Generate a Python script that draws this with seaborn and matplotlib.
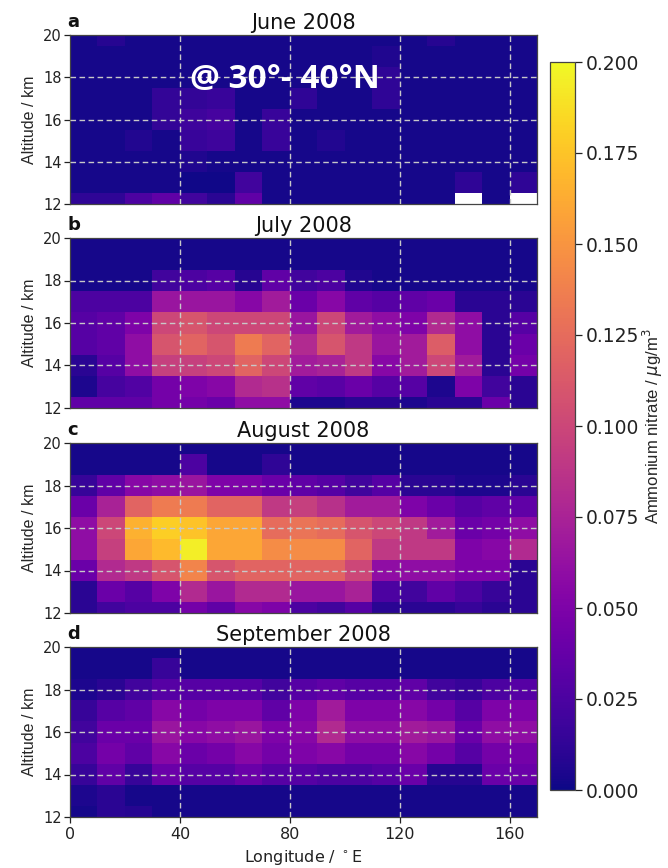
import matplotlib
matplotlib.use("Agg")
import matplotlib.pyplot as plt
import matplotlib.ticker as mticker
import numpy as np
import pandas as pd
import seaborn as sns

# 10-degree longitude bins (left edges) and 1-km altitude levels (top to bottom)
longitudes = list(range(0, 170, 10))
altitudes = [20, 19, 18, 17, 16, 15, 14, 13, 12]
months = ["June 2008", "July 2008", "August 2008", "September 2008"]
panel_letters = ["a", "b", "c", "d"]
lon_ticks = [0, 40, 80, 120, 160]
alt_ticks = [20, 18, 16, 14, 12]
cbar_ticks = [0.0, 0.025, 0.05, 0.075, 0.1, 0.125, 0.15, 0.175, 0.2]
nan = np.nan

# Ammonium nitrate (ug/m3), rows follow `altitudes`, columns follow `longitudes`
june = [
    [.003, .008, .003, .003, .003, .003, .003, .003, .003, .003, .003, .003, .003, .008, .003, .003, .003],
    [.003, .003, .003, .003, .003, .003, .003, .003, .003, .003, .003, .006, .003, .003, .003, .003, .003],
    [.003, .003, .003, .003, .003, .003, .003, .003, .003, .003, .003, .012, .003, .003, .003, .003, .003],
    [.003, .003, .003, .014, .014, .016, .003, .003, .012, .003, .003, .012, .003, .003, .003, .003, .003],
    [.003, .003, .003, .014, .018, .022, .003, .016, .003, .003, .003, .003, .003, .003, .003, .003, .003],
    [.003, .003, .007, .003, .016, .018, .003, .016, .003, .007, .003, .003, .003, .003, .003, .003, .003],
    [.003, .003, .003, .003, .006, .003, .003, .003, .003, .003, .003, .003, .003, .003, .003, .003, .003],
    [.003, .003, .003, .003, .001, .001, .020, .003, .003, .003, .003, .003, .003, .003, .012, .003, .012],
    [.012, .012, .025, .035, .020, .010, .035, .003, .003, .003, .003, .003, .003, .003, nan, .003, nan],
]
july = [
    [.003, .003, .003, .003, .003, .003, .003, .003, .003, .003, .003, .003, .003, .003, .003, .003, .003],
    [.003, .003, .003, .003, .003, .003, .003, .003, .003, .003, .003, .003, .003, .003, .003, .003, .003],
    [.003, .003, .003, .020, .025, .030, .008, .035, .020, .025, .006, .003, .003, .003, .003, .003, .003],
    [.025, .025, .025, .065, .065, .065, .055, .070, .040, .055, .035, .030, .035, .040, .010, .010, .010],
    [.030, .035, .050, .100, .110, .100, .100, .100, .065, .100, .070, .060, .050, .080, .060, .010, .030],
    [.030, .035, .060, .110, .120, .110, .135, .120, .080, .110, .090, .065, .070, .115, .060, .010, .040],
    [.010, .030, .060, .095, .095, .100, .120, .100, .070, .075, .090, .055, .070, .100, .070, .010, .045],
    [.005, .022, .028, .045, .050, .055, .080, .085, .035, .032, .040, .030, .030, .005, .050, .020, .010],
    [.035, .035, .035, .045, .045, .040, .060, .060, .005, .005, .010, .010, .005, .010, .010, .040, .010],
]
august = [
    [.003, .003, .003, .003, .003, .003, .003, .003, .003, .003, .003, .003, .003, .003, .003, .003, .003],
    [.003, .003, .003, .003, .025, .003, .003, .012, .003, .003, .003, .003, .003, .003, .003, .003, .003],
    [.015, .035, .055, .060, .065, .050, .050, .040, .035, .030, .020, .030, .010, .010, .005, .005, .010],
    [.040, .075, .120, .135, .135, .120, .120, .090, .095, .085, .070, .070, .050, .040, .030, .035, .035],
    [.060, .100, .165, .180, .175, .160, .160, .125, .130, .125, .110, .100, .090, .070, .040, .045, .060],
    [.060, .095, .160, .170, .195, .160, .160, .145, .145, .145, .120, .090, .090, .090, .050, .055, .080],
    [.040, .080, .090, .110, .140, .110, .120, .120, .120, .120, .100, .060, .060, .060, .050, .050, .010],
    [.010, .040, .030, .050, .080, .065, .080, .080, .065, .065, .075, .025, .020, .035, .025, .015, .010],
    [.010, .020, .025, .025, .045, .035, .055, .050, .025, .020, .030, .010, .010, .010, .015, .010, .010],
]
september = [
    [.003, .003, .003, .003, .003, .003, .003, .003, .003, .003, .003, .003, .003, .003, .003, .003, .003],
    [.003, .003, .003, .015, .003, .003, .003, .003, .003, .003, .003, .003, .003, .003, .003, .003, .003],
    [.005, .010, .020, .030, .030, .030, .030, .020, .030, .035, .030, .030, .035, .020, .015, .025, .030],
    [.015, .030, .035, .055, .045, .050, .050, .035, .050, .070, .050, .050, .055, .045, .030, .050, .050],
    [.020, .040, .040, .065, .055, .060, .065, .050, .055, .080, .060, .060, .070, .065, .040, .060, .060],
    [.025, .045, .035, .055, .040, .045, .055, .045, .050, .055, .045, .045, .055, .045, .030, .045, .045],
    [.015, .035, .015, .040, .030, .030, .040, .030, .030, .025, .025, .030, .040, .008, .008, .040, .040],
    [.005, .010, .003, .003, .003, .003, .003, .003, .003, .003, .003, .003, .003, .003, .003, .003, .003],
    [.003, .010, .008, .003, .003, .003, .003, .003, .003, .003, .003, .003, .003, .003, .003, .003, .003],
]
monthly_fields = [june, july, august, september]

sns.set_style("ticks")
plt.rcParams["font.family"] = ["DejaVu Sans"]

fig = plt.figure(figsize=(6.68, 8.68), dpi=100)
W, H = 668.0, 868.0
left_px, right_px = 70, 537
panel_rows_px = [(35, 204), (238, 408), (443, 613), (647, 817)]
cax = fig.add_axes([550 / W, 1 - 790 / H, 25 / W, 728 / H])

lon_step = longitudes[1] - longitudes[0]


def lon_pos(lon):
    return (lon - longitudes[0]) / lon_step


def alt_pos(alt):
    return altitudes.index(alt) + 0.5


grid_kw = dict(color="#c8c8c8", linestyle=(0, (4, 2.5)), linewidth=1.0, zorder=3)
label_family = ["Liberation Sans", "DejaVu Sans"]

cbar = None
for i, (field, month, letter) in enumerate(zip(monthly_fields, months, panel_letters)):
    top, bottom = panel_rows_px[i]
    ax = fig.add_axes([left_px / W, 1 - bottom / H, (right_px - left_px) / W, (bottom - top) / H])
    df = pd.DataFrame(field, index=altitudes, columns=longitudes)
    last = i == len(monthly_fields) - 1
    sns.heatmap(df, ax=ax, cmap="plasma", vmin=0, vmax=0.2,
                cbar=last, cbar_ax=cax if last else None,
                xticklabels=False, yticklabels=False)
    if last:
        cbar = ax.collections[0].colorbar
    ax.set_facecolor("white")
    ax.set_xlim(0, len(longitudes))
    ax.set_ylim(alt_pos(altitudes[-1]), alt_pos(altitudes[0]))

    for lon in lon_ticks[1:]:
        ax.axvline(lon_pos(lon), **grid_kw)
    for alt in alt_ticks[1:-1]:
        ax.axhline(alt_pos(alt), **grid_kw)

    for spine in ax.spines.values():
        spine.set_visible(True)
        spine.set_color("#444444")
        spine.set_linewidth(0.9)

    ax.set_yticks([alt_pos(a) for a in alt_ticks])
    ax.set_yticklabels([str(a) for a in alt_ticks], rotation=0)
    ax.tick_params(axis="y", length=4, width=0.9, labelsize=10.5, pad=2,
                   colors="#222222", left=True)
    ax.set_ylabel("Altitude / km", fontsize=11.5, labelpad=4, family=label_family)

    ax.set_xticks([lon_pos(l) for l in lon_ticks])
    if last:
        ax.set_xticklabels([str(l) for l in lon_ticks], rotation=0)
        ax.tick_params(axis="x", length=4, width=0.9, labelsize=11.5, colors="#222222",
                       bottom=True)
        ax.set_xlabel(r"Longitude / $^\circ$E", fontsize=11.5, color="#222222")
    else:
        ax.set_xticklabels([])
        ax.tick_params(axis="x", length=0)
        ax.set_xlabel("")

    ax.set_title(month, fontsize=15, pad=4, color="#111111")
    ax.text(-0.006, 1.025, letter, transform=ax.transAxes, fontsize=13,
            fontweight="bold", ha="left", va="bottom", color="#111111")

    if i == 0:
        ax.text(0.46, 0.735, "@ 30°- 40°N", transform=ax.transAxes, fontsize=24,
                fontweight="bold", color="white", ha="center", va="center",
                family=["Open Sans", "DejaVu Sans"], zorder=5)

cbar.set_ticks(cbar_ticks)
cbar.ax.yaxis.set_major_formatter(mticker.FormatStrFormatter("%.3f"))
cbar.ax.tick_params(labelsize=13.5, length=5, width=0.9, pad=3, colors="#222222")
cbar.outline.set_visible(True)
cbar.outline.set_edgecolor("#444444")
cbar.outline.set_linewidth(0.9)
cbar.set_label(r"Ammonium nitrate / $\mu$g/m$^3$", fontsize=12, labelpad=1,
               family=label_family)

fig.savefig("out.png", dpi=100, facecolor="white")
